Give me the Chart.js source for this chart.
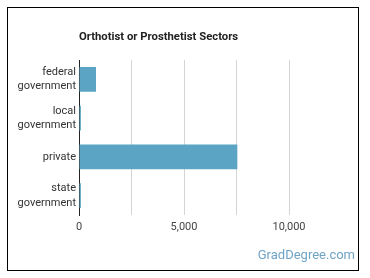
<!DOCTYPE html>
<html><head><meta charset="utf-8">
<script src="https://cdn.jsdelivr.net/npm/chart.js@4"></script>
<style>
html,body{margin:0;padding:0;background:#fff;}
#wrap{position:relative;width:370px;height:278px;}
#frame{position:absolute;left:7px;top:7px;width:352px;height:264px;border:1px solid #000;box-sizing:border-box;pointer-events:none;}
canvas{position:absolute;left:0;top:0;}
</style></head>
<body><div id="wrap"><canvas id="c" width="370" height="278"></canvas><div id="frame"></div></div>
<script>
const title = "Orthotist or Prosthetist Sectors";
const watermark = "GradDegree.com";
const categories = [["federal","government"],["local","government"],"private",["state","government"]];
const values = [810, 90, 7540, 90];
const tickLabels = {0:"0",5000:"5,000",10000:"10,000"};

const textPlugin = {
  id:'texts',
  afterDraw(chart){
    const ctx = chart.ctx, a = chart.chartArea;
    ctx.save();
    ctx.fillStyle = '#222';
    ctx.font = 'bold 11.3px Roboto';
    ctx.textBaseline = 'middle';
    ctx.textAlign = 'left';
    ctx.fillText(title, a.left, 37);
    ctx.fillStyle = '#6fa3c6';
    ctx.font = '13px Roboto';
    ctx.textAlign = 'right';
    ctx.fillText(watermark, 355, 256);
    ctx.restore();
  }
};

new Chart(document.getElementById('c'), {
  type:'bar',
  data:{labels:categories, datasets:[{data:values, backgroundColor:'#5ba4c4', categoryPercentage:1, barPercentage:0.64}]},
  options:{
    indexAxis:'y', responsive:false, animation:false,
    layout:{padding:{left:0,right:28.5,top:60,bottom:43}},
    plugins:{legend:{display:false}, tooltip:{enabled:false}, title:{display:false}},
    scales:{
      x:{min:0,max:12500,
        ticks:{stepSize:2500, autoSkip:false, maxRotation:0, color:'#444', font:{family:'Roboto',size:11}, padding:6,
          callback:(v)=> tickLabels[v] !== undefined ? tickLabels[v] : ''},
        grid:{color:(c)=> (c.tick && c.tick.value===12500) ? 'rgba(0,0,0,0)' : '#d4d4d4', drawTicks:false, lineWidth:1},
        border:{display:false},
        afterFit:(s)=>{s.height=20;}
      },
      y:{
        ticks:{color:'#333', font:{family:'Roboto',size:11, lineHeight:1.3}, padding:3, crossAlign:'near'},
        grid:{display:false, drawTicks:false},
        border:{display:true, color:'#222', width:1},
        afterFit:(s)=>{s.width=79;}
      }
    }
  },
  plugins:[textPlugin]
});
</script></body></html>
